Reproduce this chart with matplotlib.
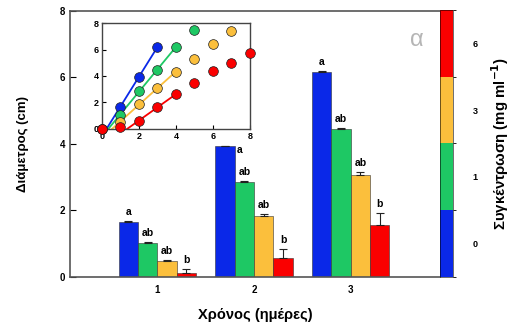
import numpy as np
import matplotlib
matplotlib.use("Agg")
import matplotlib.pyplot as plt
from matplotlib.colors import ListedColormap, BoundaryNorm
from matplotlib.cm import ScalarMappable

plt.rcParams['font.family'] = ['Liberation Sans', 'DejaVu Sans']
plt.rcParams['font.weight'] = 'bold'

# χρώματα ανά συγκέντρωση (0, 1, 3, 6 mg/ml)
colors = ['#0a28e8', '#1ec864', '#fbbf3c', '#fa0000']
conc_labels = ['0', '1', '3', '6']

# κύριο διάγραμμα: διάμετρος ανά ημέρα
days = [1, 2, 3]
diam = [
    [1.65, 3.93, 6.17],   # 0
    [1.03, 2.86, 4.44],   # 1
    [0.49, 1.83, 3.07],   # 3
    [0.13, 0.57, 1.56],   # 6
]
diam_err = [
    [0.02, 0.02, 0.03],
    [0.03, 0.03, 0.03],
    [0.03, 0.07, 0.08],
    [0.10, 0.27, 0.36],
]
letters = ['a', 'ab', 'ab', 'b']

# ένθετο: διάμετρος με τον χρόνο
ins_x = [
    [0, 1, 2, 3],
    [0, 1, 2, 3, 4, 5],
    [1, 2, 3, 4, 5, 6, 7],
    [0, 1, 2, 3, 4, 5, 6, 7, 8],
]
ins_y = [
    [0, 1.68, 3.95, 6.17],
    [0, 1.06, 2.89, 4.48, 6.17, 7.5],
    [0.55, 1.86, 3.07, 4.33, 5.26, 6.4, 7.42],
    [0, 0.18, 0.63, 1.64, 2.62, 3.45, 4.38, 5.0, 5.71],
]
ins_err = [
    [0, 0, 0, 0],
    [0, 0, 0, 0, 0, 0],
    [0, 0, 0, 0.15, 0, 0, 0],
    [0, 0, 0, 0.1, 0.25, 0.2, 0.3, 0.3, 0],
]
# σημεία της γραμμικής φάσης για την ευθεία
fit_range = [(1, 3), (1, 4), (1, 4), (2, 4)]

fig = plt.figure(figsize=(5.12, 3.29), dpi=100)
ax = fig.add_axes([0.137, 0.158, 0.722, 0.809])

w = 0.2
for i in range(4):
    xs = np.array(days) + (i - 1.5) * w
    ax.bar(xs, diam[i], width=w, color=colors[i], edgecolor='#333333', linewidth=0.4,
           yerr=[np.zeros(3), diam_err[i]], error_kw=dict(ecolor='#222222', elinewidth=0.8,
                                                         capsize=3, capthick=0.8))
    for j, (x, v, e) in enumerate(zip(xs, diam[i], diam_err[i])):
        if i == 0 and j == 1:
            # κάτω από το ένθετο: το γράμμα μπαίνει δίπλα στη στήλη
            ax.text(x + 0.155, v - 0.12, letters[i], ha='center', va='center',
                    fontsize=7.5, fontweight='bold')
        else:
            ax.text(x, v + e + 0.12, letters[i], ha='center', va='bottom', fontsize=7.5,
                    fontweight='bold')

ax.set_xlim(0.1, 3.92)
ax.set_ylim(0, 8)
ax.set_xticks(days)
ax.set_yticks([0, 2, 4, 6, 8])
ax.tick_params(axis='y', direction='in', length=4, labelsize=7)
ax.tick_params(axis='x', length=0, labelsize=7, pad=6)
for s in ['left', 'bottom', 'top']:
    ax.spines[s].set_color('#555555')
    ax.spines[s].set_linewidth(1.2)
ax.spines['right'].set_visible(False)
ax.set_xlabel('Χρόνος (ημέρες)', fontsize=10.5, fontweight='bold', labelpad=9)
ax.set_ylabel('Διάμετρος (cm)', fontsize=9.5, fontweight='bold', labelpad=22)
ax.text(0.938, 0.89, 'α', transform=ax.transAxes, fontsize=17, color='#b5b5b5',
        fontweight='normal', ha='center', va='center')

# ένθετο
ins = fig.add_axes([0.199, 0.608, 0.289, 0.322])
for i in range(4):
    x = np.array(ins_x[i])
    y = np.array(ins_y[i])
    lo, hi = fit_range[i]
    m = (x >= lo) & (x <= hi)
    k, b = np.polyfit(x[m], y[m], 1)
    x0 = -b / k
    ins.plot([x0, hi], [0, k * hi + b], color=colors[i], lw=1.3, zorder=2)
    ins.errorbar(x, y, yerr=[np.zeros(len(x)), ins_err[i]], fmt='none', ecolor='#333333',
                 elinewidth=0.6, capsize=2.5, capthick=0.6, zorder=3)
    ins.plot(x, y, 'o', color=colors[i], mec='#222222', mew=0.5, ms=7, zorder=4,
             clip_on=False)
ins.set_xlim(0, 8)
ins.set_ylim(0, 8)
ins.set_xticks([0, 2, 4, 6, 8])
ins.set_yticks([0, 2, 4, 6, 8])
ins.tick_params(direction='in', length=3, labelsize=6.5, pad=2)
for s in ins.spines.values():
    s.set_color('#444444')
    s.set_linewidth(1.0)

# χρωματική κλίμακα συγκέντρωσης
cax = fig.add_axes([0.859, 0.158, 0.026, 0.812])
cmap = ListedColormap(colors)
norm = BoundaryNorm([0, 1, 2, 3, 4], 4)
cb = fig.colorbar(ScalarMappable(norm=norm, cmap=cmap), cax=cax,
                  ticks=[0.5, 1.5, 2.5, 3.5])
cb.set_ticklabels(conc_labels)
cb.outline.set_linewidth(0.4)
cb.ax.tick_params(length=0, labelsize=6.5, pad=14)
cb.set_label('Συγκέντρωση (mg ml$^{\\mathbf{-1}}$)', fontsize=10.8, fontweight='bold',
             labelpad=8)

fig.savefig('out.png', dpi=100)
